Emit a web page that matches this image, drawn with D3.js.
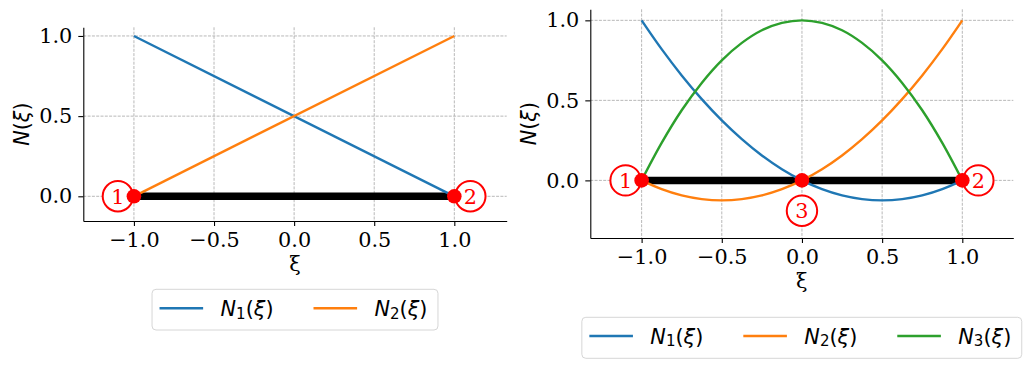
<!DOCTYPE html>
<html>
<head>
<meta charset="utf-8">
<script src="https://cdn.jsdelivr.net/npm/d3@7"></script>
<style>
  body { margin: 0; background: #fff; }
  svg { display: block; }
  .tick text { font-family: "DejaVu Serif", serif; font-size: 20.8px; fill: #000; }
  .tick line, .domain { stroke: #000; stroke-width: 1.1; }
  .grid line { stroke: #b0b0b0; stroke-width: 0.9; stroke-dasharray: 3, 1.3; }
</style>
</head>
<body>
<div id="wrapper"></div>
<script>
// 1. Data

const tickX = [-1, -0.5, 0, 0.5, 1];
const tickY = [0, 0.5, 1];

// linear element
const xiLinear = [-1, 1];
const n1Linear = [1, 0];
const n2Linear = [0, 1];
const nodesLinear = [-1, 1];
const nodeLabelsLinear = [
  { x: -1.1, y: 0, label: "1" },
  { x: 1.1, y: 0, label: "2" },
];

// quadratic element
const xiQuad = [-1, -0.875, -0.75, -0.625, -0.5, -0.375, -0.25, -0.125, 0,
  0.125, 0.25, 0.375, 0.5, 0.625, 0.75, 0.875, 1];
const n1Quad = [1, 0.82, 0.656, 0.508, 0.375, 0.258, 0.156, 0.07, 0,
  -0.055, -0.094, -0.117, -0.125, -0.117, -0.094, -0.055, 0];
const n2Quad = [0, -0.055, -0.094, -0.117, -0.125, -0.117, -0.094, -0.055, 0,
  0.07, 0.156, 0.258, 0.375, 0.508, 0.656, 0.82, 1];
const n3Quad = [0, 0.234, 0.438, 0.609, 0.75, 0.859, 0.938, 0.984, 1,
  0.984, 0.938, 0.859, 0.75, 0.609, 0.438, 0.234, 0];
const nodesQuad = [-1, 0, 1];
const nodeLabelsQuad = [
  { x: -1.1, y: 0, label: "1" },
  { x: 1.1, y: 0, label: "2" },
  { x: 0, y: -0.19, label: "3" },
];

const colors = ["#1f77b4", "#ff7f0e", "#2ca02c"];

// 2. Dimensions

const width = 1029;
const height = 368;
const fontSize = 20.8;

const wrapper = d3
  .select("#wrapper")
  .append("svg")
  .attr("width", width)
  .attr("height", height);

const panels = [
  {
    left: 83.3, right: 506.7, top: 27.3, bottom: 221,
    xDomain: [-1.316, 1.327], yDomain: [-0.154, 1.054],
    xi: xiLinear, series: [n1Linear, n2Linear],
    nodes: nodesLinear, labels: nodeLabelsLinear,
    legendY: 308.3, legendTop: 289.3, legendH: 40.7,
  },
  {
    left: 590.3, right: 1013.3, top: 9.3, bottom: 238,
    xDomain: [-1.32, 1.318], yDomain: [-0.36, 1.069],
    xi: xiQuad, series: [n1Quad, n2Quad, n3Quad],
    nodes: nodesQuad, labels: nodeLabelsQuad,
    legendY: 336, legendTop: 317.3, legendH: 41,
  },
];

panels.forEach(drawPanel);

function drawPanel(p) {
  const g = wrapper.append("g");

  // 3. Scales
  const xScale = d3.scaleLinear().domain(p.xDomain).range([p.left, p.right]);
  const yScale = d3.scaleLinear().domain(p.yDomain).range([p.bottom, p.top]);

  // grid
  const grid = g.append("g").attr("class", "grid");
  grid.selectAll(".gx").data(tickX).join("line")
    .attr("x1", d => xScale(d)).attr("x2", d => xScale(d))
    .attr("y1", p.top).attr("y2", p.bottom);
  grid.selectAll(".gy").data(tickY).join("line")
    .attr("class", "gy")
    .attr("x1", p.left).attr("x2", p.right)
    .attr("y1", d => yScale(d)).attr("y2", d => yScale(d));

  // axes
  const fmt = d3.format(".1f");
  g.append("g")
    .attr("transform", `translate(0,${p.bottom})`)
    .call(d3.axisBottom(xScale).tickValues(tickX).tickFormat(fmt)
      .tickSizeInner(5).tickSizeOuter(0).tickPadding(6))
    .call(a => a.selectAll("text").attr("font-family", null).attr("font-size", null));
  g.append("g")
    .attr("transform", `translate(${p.left},0)`)
    .call(d3.axisLeft(yScale).tickValues(tickY).tickFormat(fmt)
      .tickSizeInner(5).tickSizeOuter(0).tickPadding(6))
    .call(a => a.selectAll("text").attr("font-family", null).attr("font-size", null));
  g.selectAll(".domain").attr("fill", "none");

  // axis labels
  g.append("text")
    .attr("x", (p.left + p.right) / 2)
    .attr("y", p.bottom + 50)
    .attr("text-anchor", "middle")
    .attr("font-family", "DejaVu Serif")
    .attr("font-size", fontSize)
    .text("ξ");

  const yLabel = g.append("text")
    .attr("transform", `translate(${p.left - 54},${(p.top + p.bottom) / 2}) rotate(-90)`)
    .attr("text-anchor", "middle")
    .attr("font-family", "DejaVu Sans")
    .attr("font-size", fontSize);
  yLabel.append("tspan").attr("font-style", "italic").text("N");
  yLabel.append("tspan").text("(");
  yLabel.append("tspan").attr("font-style", "italic").text("ξ");
  yLabel.append("tspan").text(")");

  // 4. Draw data
  g.append("line")
    .attr("x1", xScale(p.nodes[0]))
    .attr("x2", xScale(p.nodes[p.nodes.length - 1]))
    .attr("y1", yScale(0)).attr("y2", yScale(0))
    .attr("stroke", "#000")
    .attr("stroke-width", 7.5);

  const lineGen = d3.line()
    .x((d, i) => xScale(p.xi[i]))
    .y(d => yScale(d))
    .curve(d3.curveCatmullRom.alpha(0.5));

  g.selectAll(".curve").data(p.series).join("path")
    .attr("class", "curve")
    .attr("d", lineGen)
    .attr("fill", "none")
    .attr("stroke", (d, i) => colors[i])
    .attr("stroke-width", 2.4);

  const labels = g.selectAll(".node-label").data(p.labels).join("g")
    .attr("class", "node-label")
    .attr("transform", d => `translate(${xScale(d.x)},${yScale(d.y)})`);
  labels.append("circle")
    .attr("r", 15.2)
    .attr("fill", "#fff")
    .attr("stroke", "red")
    .attr("stroke-width", 2);
  labels.append("text")
    .attr("text-anchor", "middle")
    .attr("dy", "0.36em")
    .attr("font-family", "DejaVu Serif")
    .attr("font-size", fontSize)
    .attr("fill", "red")
    .text(d => d.label);

  g.selectAll(".node").data(p.nodes).join("circle")
    .attr("class", "node")
    .attr("cx", d => xScale(d))
    .attr("cy", yScale(0))
    .attr("r", 7.3)
    .attr("fill", "red");

  // 5. Legend
  const legend = g.append("g");
  const box = legend.append("rect");
  const handleLen = 43.6;
  let x = 7.5;
  p.series.forEach((s, i) => {
    legend.append("line")
      .attr("x1", x).attr("x2", x + handleLen)
      .attr("y1", p.legendY).attr("y2", p.legendY)
      .attr("stroke", colors[i])
      .attr("stroke-width", 2.4);
    const t = legend.append("text")
      .attr("x", x + handleLen + 17.4)
      .attr("y", p.legendY + 7.5)
      .attr("font-family", "DejaVu Sans")
      .attr("font-size", fontSize);
    t.append("tspan").attr("font-style", "italic").text("N");
    t.append("tspan").attr("font-size", 15).attr("dy", 2.8).text(i + 1);
    t.append("tspan").attr("dy", -2.8).text("(");
    t.append("tspan").attr("font-style", "italic").text("ξ");
    t.append("tspan").text(")");
    x += handleLen + 17.4 + t.node().getComputedTextLength() + 40;
  });
  const boxW = x - 40 + 10.5;
  box.attr("x", 0).attr("y", p.legendTop)
    .attr("width", boxW).attr("height", p.legendH)
    .attr("rx", 4)
    .attr("fill", "#fff")
    .attr("stroke", "#d6d6d6")
    .attr("stroke-width", 1);
  legend.attr("transform", `translate(${(p.left + p.right) / 2 - boxW / 2},0)`);
}
</script>
</body>
</html>
